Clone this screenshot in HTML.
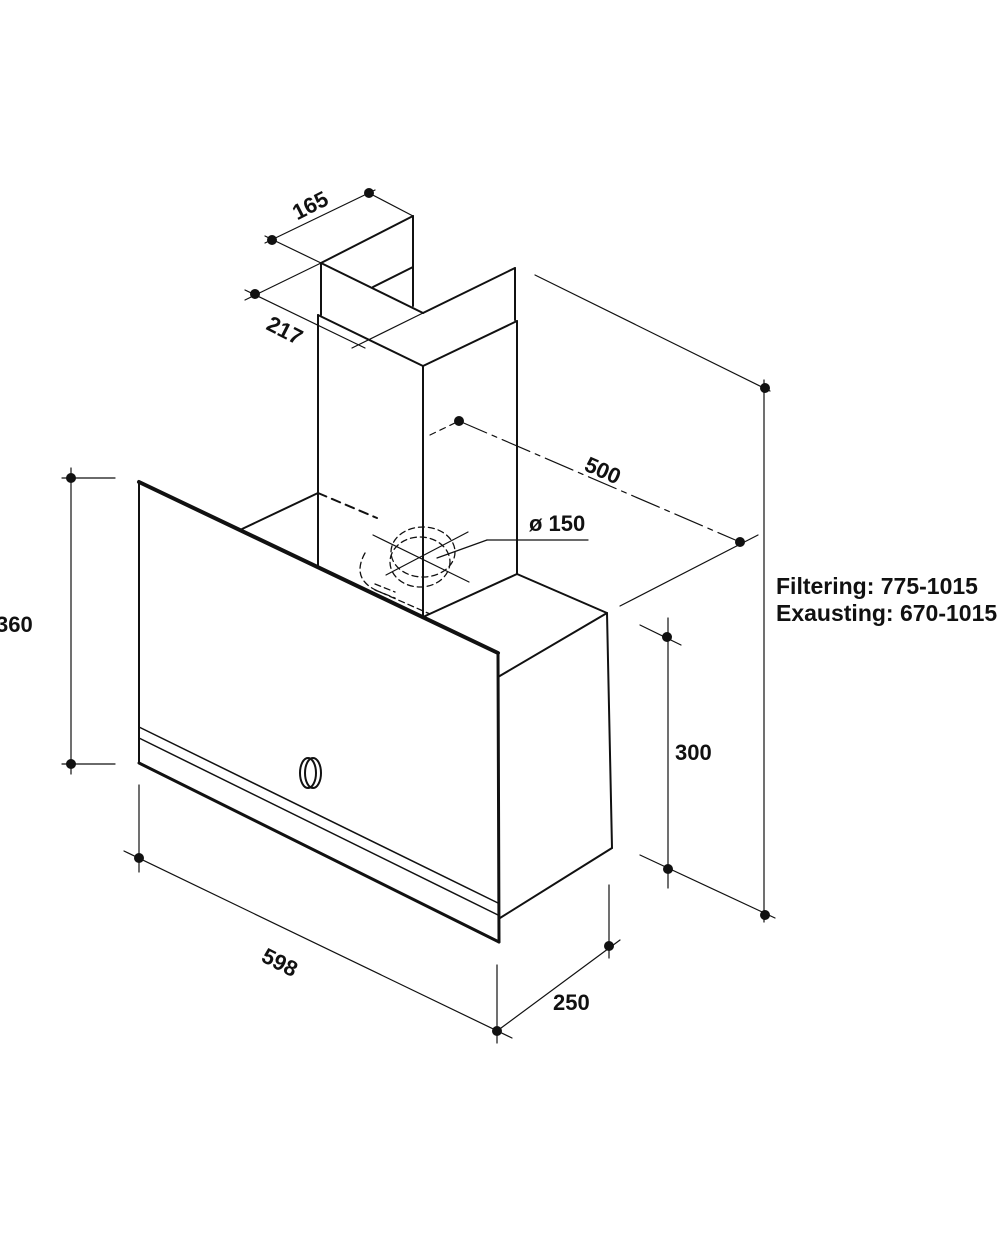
<!DOCTYPE html>
<html><head><meta charset="utf-8"><style>html,body{margin:0;padding:0;background:#fff}svg{display:block}</style></head>
<body>
<svg width="1000" height="1235" viewBox="0 0 1000 1235" xmlns="http://www.w3.org/2000/svg" font-family="Liberation Sans, Arial, sans-serif">
<g stroke="#111" fill="none" stroke-linecap="round">
<g stroke-width="2">
<line x1="321" y1="263" x2="413" y2="216"/>
<line x1="413" y1="216" x2="413" y2="306"/>
<line x1="373" y1="287" x2="413" y2="267"/>
<line x1="321" y1="263" x2="321" y2="315"/>
<line x1="321" y1="263" x2="423" y2="313"/>
<line x1="423" y1="313" x2="515" y2="268"/>
<line x1="515" y1="268" x2="515" y2="320"/>
<line x1="318" y1="315" x2="423" y2="366"/>
<line x1="423" y1="366" x2="517" y2="321"/>
<line x1="318" y1="315" x2="318" y2="567"/>
<line x1="423" y1="366" x2="423" y2="617"/>
<line x1="517" y1="321" x2="517" y2="574"/>
<line x1="318" y1="493" x2="242" y2="529"/>
<line x1="517" y1="574" x2="607" y2="613"/>
<line x1="423" y1="617" x2="517" y2="574"/>
<line x1="498" y1="677" x2="607" y2="613"/>
<line x1="607" y1="613" x2="612" y2="848"/>
<line x1="500" y1="918" x2="612" y2="848"/>
</g>
<line x1="318" y1="493" x2="377" y2="518" stroke-width="2" stroke-dasharray="9,6"/>
<line x1="139" y1="482" x2="498" y2="653" stroke-width="4"/>
<line x1="498" y1="653" x2="499" y2="942" stroke-width="3"/>
<line x1="139" y1="482" x2="139" y2="763" stroke-width="2"/>
<line x1="139" y1="763" x2="499" y2="942" stroke-width="3"/>
<line x1="139" y1="727" x2="498" y2="903" stroke-width="1.5"/>
<line x1="139" y1="738" x2="498" y2="915" stroke-width="1.5"/>
<ellipse cx="308" cy="773" rx="8" ry="15" stroke-width="2"/>
<ellipse cx="313" cy="773" rx="8" ry="15" stroke-width="2"/>
<g stroke-width="1.3" stroke-dasharray="6,4">
<ellipse cx="423" cy="552" rx="32" ry="25"/>
<ellipse cx="420" cy="562" rx="30" ry="25"/>
<path d="M365 553 Q350 580 380 592 L430 614"/>
<line x1="375" y1="584" x2="395" y2="592"/>
<line x1="375" y1="590" x2="395" y2="598"/>
</g>
<g stroke-width="1.2">
<line x1="373" y1="535" x2="469" y2="582"/>
<line x1="386" y1="575" x2="468" y2="532"/>
<line x1="437" y1="558" x2="487" y2="540"/>
<line x1="487" y1="540" x2="588" y2="540"/>
<line x1="265" y1="243" x2="375" y2="190"/>
<line x1="365" y1="191" x2="413" y2="216"/>
<line x1="265" y1="236" x2="321" y2="263"/>
<line x1="245" y1="300" x2="321" y2="263"/>
<line x1="245" y1="290" x2="365" y2="348"/>
<line x1="352" y1="348" x2="423" y2="313"/>
<line x1="535" y1="275" x2="770" y2="391"/>
<line x1="620" y1="606" x2="758" y2="535"/>
<line x1="764" y1="380" x2="764" y2="922"/>
<line x1="640" y1="625" x2="681" y2="645"/>
<line x1="668" y1="618" x2="668" y2="888"/>
<line x1="640" y1="855" x2="775" y2="918"/>
<line x1="71" y1="468" x2="71" y2="774"/>
<line x1="62" y1="478" x2="115" y2="478"/>
<line x1="62" y1="764" x2="115" y2="764"/>
<line x1="139" y1="785" x2="139" y2="872"/>
<line x1="124" y1="851" x2="512" y2="1038"/>
<line x1="497" y1="965" x2="497" y2="1043"/>
<line x1="609" y1="885" x2="609" y2="958"/>
<line x1="497" y1="1031" x2="620" y2="940"/>
</g>
<line x1="430" y1="435" x2="459" y2="421" stroke-width="1.2" stroke-dasharray="6,5"/>
<line x1="459" y1="421" x2="740" y2="542" stroke-width="1.2" stroke-dasharray="30,6,5,6"/>
</g>
<g fill="#111">
<circle cx="369" cy="193" r="5"/><circle cx="272" cy="240" r="5"/><circle cx="255" cy="294" r="5"/>
<circle cx="459" cy="421" r="5"/><circle cx="740" cy="542" r="5"/><circle cx="765" cy="388" r="5"/>
<circle cx="765" cy="915" r="5"/><circle cx="667" cy="637" r="5"/><circle cx="668" cy="869" r="5"/>
<circle cx="71" cy="478" r="5"/><circle cx="71" cy="764" r="5"/><circle cx="139" cy="858" r="5"/>
<circle cx="497" cy="1031" r="5"/><circle cx="609" cy="946" r="5"/>
</g>
<g fill="#111" font-weight="bold" font-size="22">
<text x="310" y="213" text-anchor="middle" transform="rotate(-27 310 205)">165</text>
<text x="285" y="338" text-anchor="middle" transform="rotate(27 285 330)">217</text>
<text x="603" y="478" text-anchor="middle" transform="rotate(24 603 470)">500</text>
<text x="529" y="531">ø 150</text>
<text x="-4" y="632">360</text>
<text x="675" y="760">300</text>
<text x="280" y="970" text-anchor="middle" transform="rotate(27 280 962)">598</text>
<text x="553" y="1010">250</text>
<text x="776" y="594" font-size="23">Filtering: 775-1015</text>
<text x="776" y="621" font-size="23">Exausting: 670-1015</text>
</g>
</svg>
</body></html>
